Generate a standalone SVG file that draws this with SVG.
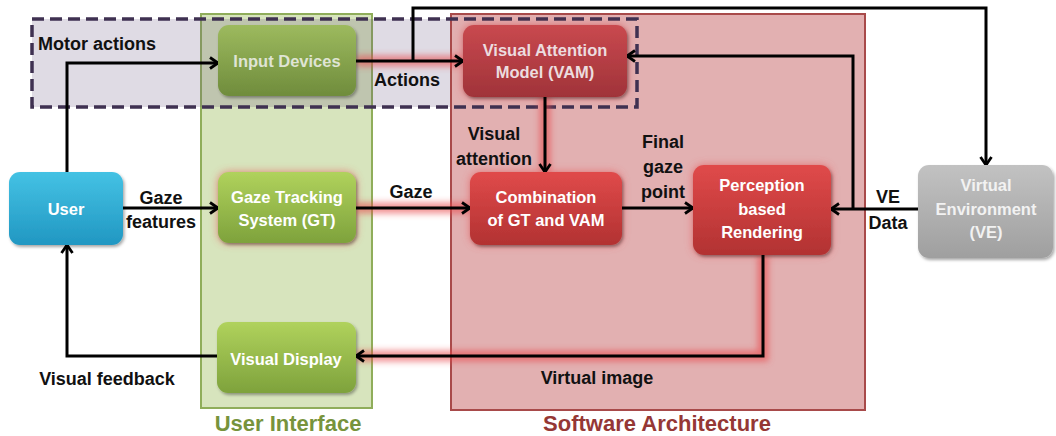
<svg xmlns="http://www.w3.org/2000/svg" width="1056" height="436" viewBox="0 0 1056 436">
<defs>
<style>
.lbl{font-family:"Liberation Sans",Arial,sans-serif;font-weight:bold;font-size:18px;fill:#111;text-anchor:middle}
.nt{font-family:"Liberation Sans",Arial,sans-serif;font-weight:bold;font-size:16.5px;text-anchor:middle}
.cap{font-family:"Liberation Sans",Arial,sans-serif;font-weight:bold;font-size:22px;text-anchor:middle}
.con{fill:none;stroke:#000;stroke-width:3}
.glow{fill:none;stroke:#e8484c;stroke-width:11;opacity:0.6;filter:url(#blur)}
</style>
<filter id="blur" filterUnits="userSpaceOnUse" x="0" y="0" width="1056" height="436"><feGaussianBlur stdDeviation="3"/></filter>
<filter id="halo" filterUnits="userSpaceOnUse" x="0" y="0" width="1056" height="436"><feGaussianBlur stdDeviation="4"/></filter>
<filter id="shadow" x="-10%" y="-10%" width="130%" height="130%"><feDropShadow dx="1.5" dy="2" stdDeviation="1.5" flood-color="#000" flood-opacity="0.35"/></filter>
<linearGradient id="gBlue" x1="0" y1="0" x2="0" y2="1"><stop offset="0" stop-color="#44c2e4"/><stop offset="1" stop-color="#2197c2"/></linearGradient>
<linearGradient id="gGreen" x1="0" y1="0" x2="0" y2="1"><stop offset="0" stop-color="#b0d25c"/><stop offset="1" stop-color="#7ea23c"/></linearGradient>
<linearGradient id="gGreenMuted" x1="0" y1="0" x2="0" y2="1"><stop offset="0" stop-color="#9dba5e"/><stop offset="1" stop-color="#6f8c3c"/></linearGradient>
<linearGradient id="gRed" x1="0" y1="0" x2="0" y2="1"><stop offset="0" stop-color="#e04a4a"/><stop offset="1" stop-color="#b23232"/></linearGradient>
<linearGradient id="gRedMuted" x1="0" y1="0" x2="0" y2="1"><stop offset="0" stop-color="#c9494f"/><stop offset="1" stop-color="#a03339"/></linearGradient>
<linearGradient id="gGray" x1="0" y1="0" x2="0" y2="1"><stop offset="0" stop-color="#c2c2c2"/><stop offset="1" stop-color="#9f9f9f"/></linearGradient>
<marker id="arr" markerUnits="userSpaceOnUse" markerWidth="14" markerHeight="14" refX="10" refY="7" orient="auto">
<path d="M2,1.5 L10,7 L2,12.5" fill="none" stroke="#000" stroke-width="2.8"/>
</marker>
</defs>
<rect width="1056" height="436" fill="#fff"/>

<g id="user-interface-panel">
<rect x="201" y="14" width="171" height="394" fill="#d7e4bd" stroke="#8fad5a" stroke-width="2"/>
<text class="cap" x="288" y="431" fill="#77933c">User Interface</text>
</g>

<g id="motor-actions-fill">
<rect x="32" y="19" width="605" height="88" fill="#5f497a" opacity="0.2"/>
</g>

<g id="software-architecture-panel">
<rect x="451" y="14" width="414" height="396" fill="#e2b0b1" stroke="#a84a4a" stroke-width="2"/>
<text class="cap" x="657" y="431" fill="#953735">Software Architecture</text>
</g>

<g id="motor-actions">
<rect x="32" y="19" width="605" height="88" fill="none" stroke="#3f3151" stroke-width="3.5" stroke-dasharray="12,6"/>
<text class="lbl" x="38" y="50" style="text-anchor:start">Motor actions</text>
</g>

<g id="glows">
<path class="glow" d="M356,61 H463"/>
<path class="glow" d="M356,208 H470"/>
<path class="glow" d="M545,97 V172"/>
<path class="glow" d="M763,255 V356 H356"/>
<rect x="218" y="172" width="138" height="71" rx="10" fill="#e8484c" opacity="0.6" filter="url(#halo)"/>
<rect x="463" y="25" width="164" height="72" rx="10" fill="#d83c40" opacity="0.6" filter="url(#halo)"/>
<rect x="470" y="172" width="152" height="73" rx="10" fill="#e8484c" opacity="0.6" filter="url(#halo)"/>
<rect x="693" y="165" width="138" height="90" rx="10" fill="#e8484c" opacity="0.6" filter="url(#halo)"/>
</g>

<g id="connectors">
<path class="con" d="M67,172 V63 H218" marker-end="url(#arr)"/>
<path class="con" d="M356,61 H463" marker-end="url(#arr)"/>
<path class="con" d="M413,61 V8 H986 V165" marker-end="url(#arr)"/>
<path class="con" d="M545,97 V172" marker-end="url(#arr)"/>
<path class="con" d="M918,209 H831" marker-end="url(#arr)"/>
<path class="con" d="M853,209 V56 H627" marker-end="url(#arr)"/>
<path class="con" d="M123,208 H218" marker-end="url(#arr)"/>
<path class="con" d="M356,208 H470" marker-end="url(#arr)"/>
<path class="con" d="M622,208 H693" marker-end="url(#arr)"/>
<path class="con" d="M763,255 V356 H356" marker-end="url(#arr)"/>
<path class="con" d="M217,356 H67 V245" marker-end="url(#arr)"/>
<text class="lbl" x="407" y="86">Actions</text>
<text class="lbl" x="494" y="140">Visual</text>
<text class="lbl" x="494" y="165">attention</text>
<text class="lbl" x="663" y="148">Final</text>
<text class="lbl" x="663" y="173">gaze</text>
<text class="lbl" x="663" y="198">point</text>
<text class="lbl" x="411" y="198">Gaze</text>
<text class="lbl" x="161" y="204">Gaze</text>
<text class="lbl" x="161" y="228">features</text>
<text class="lbl" x="888" y="203">VE</text>
<text class="lbl" x="888" y="229">Data</text>
<text class="lbl" x="597" y="384">Virtual image</text>
<text class="lbl" x="107" y="385">Visual feedback</text>
</g>

<g id="user">
<rect x="9" y="172" width="114" height="73" rx="11" fill="url(#gBlue)" filter="url(#shadow)"/>
<text class="nt" x="66" y="215" fill="#fff">User</text>
</g>

<g id="input-devices">
<rect x="218" y="25" width="138" height="71" rx="11" fill="url(#gGreenMuted)" filter="url(#shadow)"/>
<text class="nt" x="287" y="67" fill="#dfe4d4">Input Devices</text>
</g>

<g id="gaze-tracking">
<rect x="218" y="172" width="138" height="71" rx="11" fill="url(#gGreen)" filter="url(#shadow)"/>
<text class="nt" x="287" y="203" fill="#fff">Gaze Tracking</text>
<text class="nt" x="287" y="226" fill="#fff">System (GT)</text>
</g>

<g id="visual-display">
<rect x="217" y="322" width="139" height="71" rx="11" fill="url(#gGreen)" filter="url(#shadow)"/>
<text class="nt" x="286" y="365" fill="#fff">Visual Display</text>
</g>

<g id="vam">
<rect x="463" y="25" width="164" height="72" rx="11" fill="url(#gRedMuted)" filter="url(#shadow)"/>
<text class="nt" x="545" y="56" fill="#ecdcdf">Visual Attention</text>
<text class="nt" x="545" y="78" fill="#ecdcdf">Model (VAM)</text>
</g>

<g id="combination">
<rect x="470" y="172" width="152" height="73" rx="11" fill="url(#gRed)" filter="url(#shadow)"/>
<text class="nt" x="546" y="203" fill="#fff">Combination</text>
<text class="nt" x="546" y="226" fill="#fff">of GT and VAM</text>
</g>

<g id="perception">
<rect x="693" y="165" width="138" height="90" rx="11" fill="url(#gRed)" filter="url(#shadow)"/>
<text class="nt" x="762" y="191" fill="#fff">Perception</text>
<text class="nt" x="762" y="215" fill="#fff">based</text>
<text class="nt" x="762" y="238" fill="#fff">Rendering</text>
</g>

<g id="virtual-environment">
<rect x="918" y="165" width="135" height="93" rx="11" fill="url(#gGray)" filter="url(#shadow)"/>
<text class="nt" x="986" y="191" fill="#f2f2f2">Virtual</text>
<text class="nt" x="986" y="215" fill="#f2f2f2">Environment</text>
<text class="nt" x="986" y="238" fill="#f2f2f2">(VE)</text>
</g>
</svg>
